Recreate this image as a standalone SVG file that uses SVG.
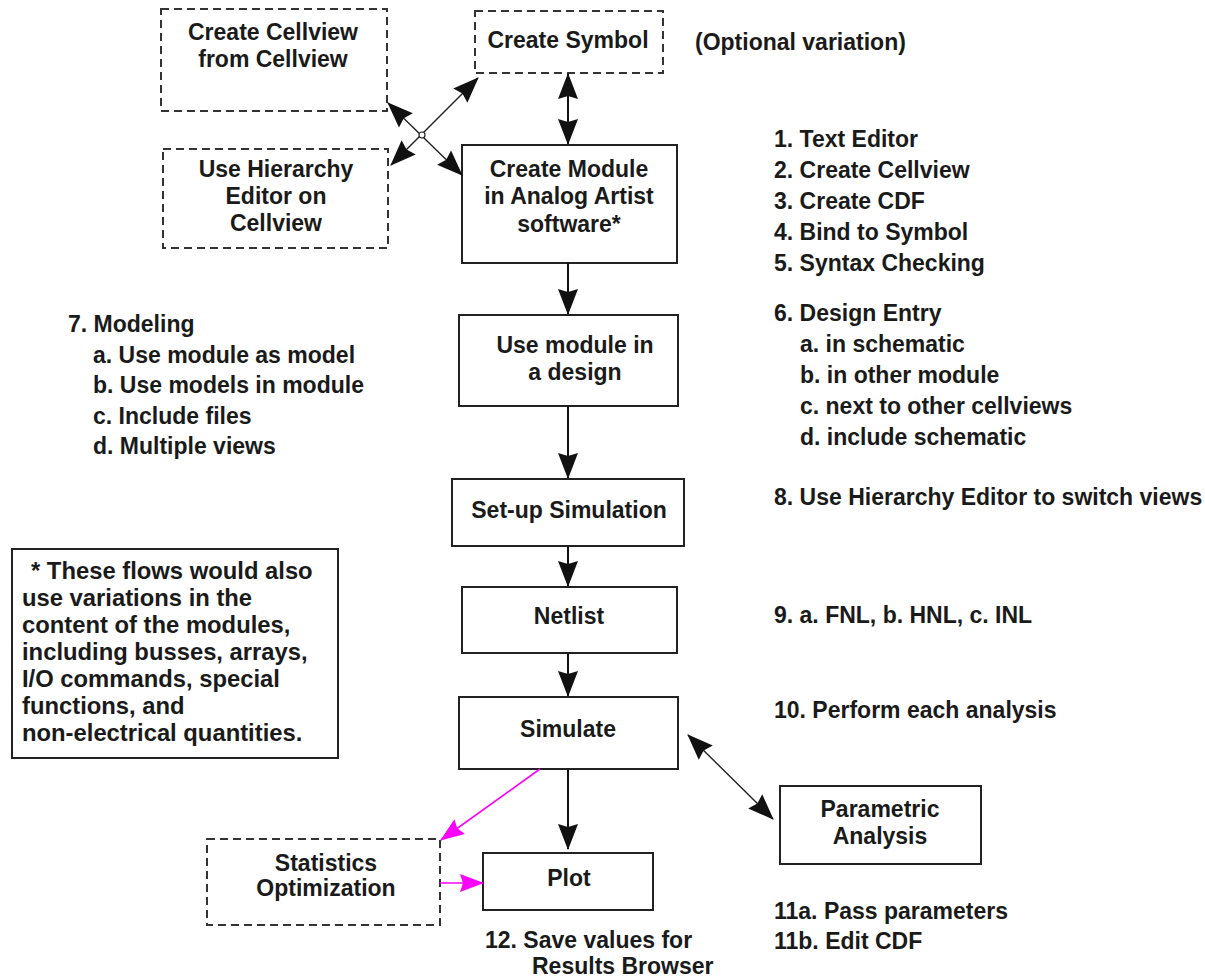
<svg xmlns="http://www.w3.org/2000/svg" width="1205" height="977" viewBox="0 0 1205 977">
  <style>
    text { font-family: "Liberation Sans", Arial, Helvetica, sans-serif; font-weight: bold; font-size: 23px; fill: #1a1a1a; }
    .c { text-anchor: middle; }
    .note { font-size: 23.8px; }
    .box { fill: #fff; stroke: #222; stroke-width: 2; }
    .dash { fill: #fff; stroke: #333; stroke-width: 2; stroke-dasharray: 8 5; }
    .wire { fill: none; stroke: #111; stroke-width: 2; }
    .thin { fill: none; stroke: #222; stroke-width: 1.4; }
    .pink { fill: none; stroke: #ff00ff; stroke-width: 1.6; }
  </style>
  <defs>
    <!-- solid arrowheads, sized in user units -->
    <marker id="ah" markerUnits="userSpaceOnUse" markerWidth="26" markerHeight="22" refX="25" refY="11" orient="auto-start-reverse" overflow="visible">
      <path d="M26,11 L0,1 L3,11 L0,21 Z" fill="#111"/>
    </marker>
    <marker id="ahp" markerUnits="userSpaceOnUse" markerWidth="24" markerHeight="20" refX="23" refY="10" orient="auto-start-reverse" overflow="visible">
      <path d="M24,10 L0,1 L3,10 L0,19 Z" fill="#ff00ff"/>
    </marker>
  </defs>
  <rect width="1205" height="977" fill="#fff"/>

  <!-- flow nodes -->
  <g id="create-cellview">
    <rect class="dash" x="161" y="9" width="226" height="102"/>
    <text class="c" x="273" y="40">Create Cellview</text>
    <text class="c" x="273" y="67">from Cellview</text>
  </g>
  <g id="create-symbol">
    <rect class="dash" x="475" y="11" width="188" height="62"/>
    <text class="c" x="568" y="48">Create Symbol</text>
  </g>
  <g id="hierarchy-editor">
    <rect class="dash" x="163" y="149" width="225" height="99"/>
    <text class="c" x="276" y="177">Use Hierarchy</text>
    <text class="c" x="276" y="204">Editor on</text>
    <text class="c" x="276" y="231">Cellview</text>
  </g>
  <g id="create-module">
    <rect class="box" x="462" y="145" width="215" height="118"/>
    <text class="c" x="569" y="177">Create Module</text>
    <text class="c" x="569" y="204">in Analog Artist</text>
    <text class="c" x="569" y="232">software*</text>
  </g>
  <g id="use-module">
    <rect class="box" x="459" y="315" width="219" height="91"/>
    <text class="c" x="575" y="353">Use module in</text>
    <text class="c" x="575" y="380">a design</text>
  </g>
  <g id="setup-simulation">
    <rect class="box" x="452" y="479" width="232" height="67"/>
    <text class="c" x="569" y="518">Set-up Simulation</text>
  </g>
  <g id="netlist">
    <rect class="box" x="462" y="587" width="215" height="66"/>
    <text class="c" x="569" y="624">Netlist</text>
  </g>
  <g id="simulate">
    <rect class="box" x="459" y="697" width="219" height="72"/>
    <text class="c" x="568" y="737">Simulate</text>
  </g>
  <g id="parametric-analysis">
    <rect class="box" x="780" y="786" width="201" height="78"/>
    <text class="c" x="880" y="817">Parametric</text>
    <text class="c" x="880" y="844">Analysis</text>
  </g>
  <g id="statistics-optimization">
    <rect class="dash" x="207" y="839" width="233" height="86"/>
    <text class="c" x="326" y="871">Statistics</text>
    <text class="c" x="326" y="896">Optimization</text>
  </g>
  <g id="plot">
    <rect class="box" x="483" y="853" width="170" height="57"/>
    <text class="c" x="569" y="886">Plot</text>
  </g>
  <g id="footnote">
    <rect class="box" x="12" y="549" width="326" height="209"/>
    <text class="note" x="31" y="579">* These flows would also</text>
    <text class="note" x="22" y="606">use variations in the</text>
    <text class="note" x="22" y="633">content of the modules,</text>
    <text class="note" x="22" y="660">including busses, arrays,</text>
    <text class="note" x="22" y="687">I/O commands, special</text>
    <text class="note" x="22" y="714">functions, and</text>
    <text class="note" x="22" y="741">non-electrical quantities.</text>
  </g>

  <!-- connectors -->
  <g id="connectors">
    <line class="wire" x1="568" y1="74" x2="568" y2="144" marker-start="url(#ah)" marker-end="url(#ah)"/>
    <line class="wire" x1="568" y1="263" x2="568" y2="314" marker-end="url(#ah)"/>
    <line class="wire" x1="568" y1="406" x2="568" y2="478" marker-end="url(#ah)"/>
    <line class="wire" x1="568" y1="546" x2="568" y2="586" marker-end="url(#ah)"/>
    <line class="wire" x1="568" y1="653" x2="568" y2="696" marker-end="url(#ah)"/>
    <line class="wire" x1="568" y1="769" x2="568" y2="849" marker-end="url(#ah)"/>
    <line class="thin" x1="388" y1="103" x2="462" y2="175" marker-start="url(#ah)" marker-end="url(#ah)"/>
    <line class="thin" x1="391" y1="165" x2="478" y2="78" marker-start="url(#ah)" marker-end="url(#ah)"/>
    <circle cx="422" cy="135" r="3" fill="#fff" stroke="#222" stroke-width="1.2"/>
    <line class="thin" x1="688" y1="735" x2="773" y2="819" marker-start="url(#ah)" marker-end="url(#ah)"/>
    <line class="pink" x1="540" y1="769" x2="441" y2="840" marker-end="url(#ahp)"/>
    <line class="pink" x1="440" y1="883" x2="483" y2="883" marker-end="url(#ahp)"/>
  </g>

  <!-- side annotations -->
  <g id="notes">
    <text x="695" y="50">(Optional variation)</text>
    <text x="774" y="147">1. Text Editor</text>
    <text x="774" y="178">2. Create Cellview</text>
    <text x="774" y="209">3. Create CDF</text>
    <text x="774" y="240">4. Bind to Symbol</text>
    <text x="774" y="271">5. Syntax Checking</text>
    <text x="774" y="321">6. Design Entry</text>
    <text x="800" y="352">a. in schematic</text>
    <text x="800" y="383">b. in other module</text>
    <text x="800" y="414">c. next to other cellviews</text>
    <text x="800" y="445">d. include schematic</text>
    <text x="774" y="505">8. Use Hierarchy Editor to switch views</text>
    <text x="774" y="623">9. a. FNL, b. HNL, c. INL</text>
    <text x="774" y="718">10. Perform each analysis</text>
    <text x="774" y="919">11a. Pass parameters</text>
    <text x="774" y="949">11b. Edit CDF</text>
    <text x="68" y="332">7. Modeling</text>
    <text x="93" y="363">a. Use module as model</text>
    <text x="93" y="393">b. Use models in module</text>
    <text x="93" y="424">c. Include files</text>
    <text x="93" y="454">d. Multiple views</text>
    <text x="485" y="948">12. Save values for</text>
    <text x="532" y="974">Results Browser</text>
  </g>
</svg>
